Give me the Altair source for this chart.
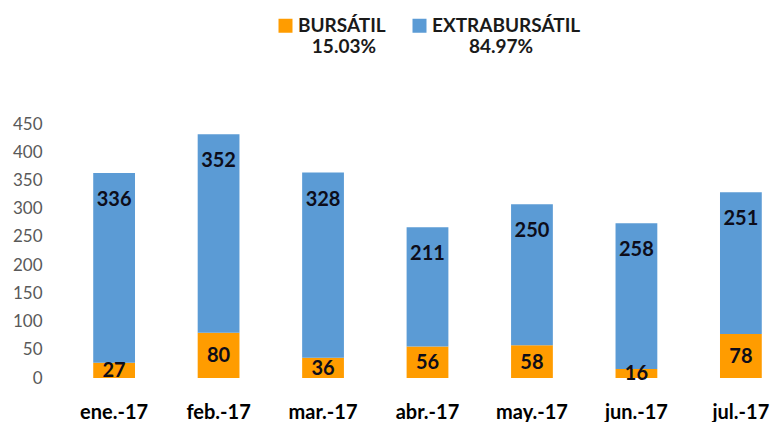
import altair as alt
import pandas as pd

months = ["ene.-17", "feb.-17", "mar.-17", "abr.-17", "may.-17", "jun.-17", "jul.-17"]
bursatil = [27, 80, 36, 56, 58, 16, 78]
extrabursatil = [336, 352, 328, 211, 250, 258, 251]
series = ["BURSÁTIL", "EXTRABURSÁTIL"]
shares = ["15.03%", "84.97%"]
colors = ["#FF9C00", "#5B9BD5"]
y_ticks = [0, 50, 100, 150, 200, 250, 300, 350, 400, 450]

rows = []
for i, m in enumerate(months):
    rows.append({"month": m, "series": series[0], "ord": 0, "value": bursatil[i]})
    rows.append({"month": m, "series": series[1], "ord": 1, "value": extrabursatil[i]})
df = pd.DataFrame(rows)

FONT = "Lato"
ZW = "\u200b"
NB = "\u00a0"
pad = [ZW + NB * 3, ZW + NB * 8]

label_expr = (
    f"datum.label == '{series[0]}' ? ['{series[0]}', '{pad[0]}{shares[0]}'] "
    f": ['{series[1]}', '{pad[1]}{shares[1]}']"
)

x_enc = alt.X(
    "month:N",
    sort=months,
    scale=alt.Scale(paddingInner=0.6, paddingOuter=0.05),
    axis=alt.Axis(
        title=None, labelAngle=0, domain=False, ticks=False, labelPadding=24,
        labelFont=FONT, labelFontSize=20, labelFontWeight="bold", labelColor="#000000",
    ),
)

y_axis = alt.Axis(
    title=None, values=y_ticks, grid=False, domain=False, ticks=False,
    labelPadding=0, offset=46, labelFont=FONT, labelFontSize=17,
    labelColor="#595959", labelOverlap=False,
)

base = alt.Chart(df).transform_stack(
    stack="value", groupby=["month"], as_=["y0", "y1"], sort=[alt.SortField("ord")]
).transform_calculate(mid="(datum.y0 + datum.y1) / 2")

bars = base.mark_bar().encode(
    x=x_enc,
    y=alt.Y("y0:Q", scale=alt.Scale(domain=[0, 450], nice=False), axis=y_axis),
    y2="y1:Q",
    color=alt.Color(
        "series:N",
        scale=alt.Scale(domain=series, range=colors),
        legend=alt.Legend(
            orient="none", legendX=188, legendY=-108, direction="horizontal",
            title=None, symbolType="square", symbolSize=196, symbolStrokeWidth=0,
            labelFont=FONT, labelFontSize=19, labelFontWeight="bold", labelColor="#1a1a1a",
            labelExpr=label_expr, labelAlign="left", labelBaseline="middle",
            columnPadding=24, labelOffset=3, labelLimit=400,
        ),
    ),
    order=alt.Order("ord:Q"),
)

text_low = base.transform_filter(alt.datum.ord == 0).mark_text(
    font=FONT, fontSize=20, fontWeight="bold", color="#0d0d1a", baseline="middle", dy=1
).encode(
    x=alt.X("month:N", sort=months),
    y=alt.Y("mid:Q", axis=y_axis),
    text="value:Q",
)

text_high = base.transform_filter(alt.datum.ord == 1).mark_text(
    font=FONT, fontSize=20, fontWeight="bold", color="#0d0d1a", baseline="middle", dy=27
).encode(
    x=alt.X("month:N", sort=months),
    y=alt.Y("y1:Q", axis=y_axis),
    text="value:Q",
)

chart = alt.layer(bars, text_low, text_high).properties(
    width=679, height=254,
    background="#ffffff",
    autosize=alt.AutoSizeParams(type="none"),
    padding={"left": 88, "top": 124, "right": 9, "bottom": 44},
).configure_view(stroke=None)

chart.save("out.html", embed_options={"renderer": "svg", "actions": False})
